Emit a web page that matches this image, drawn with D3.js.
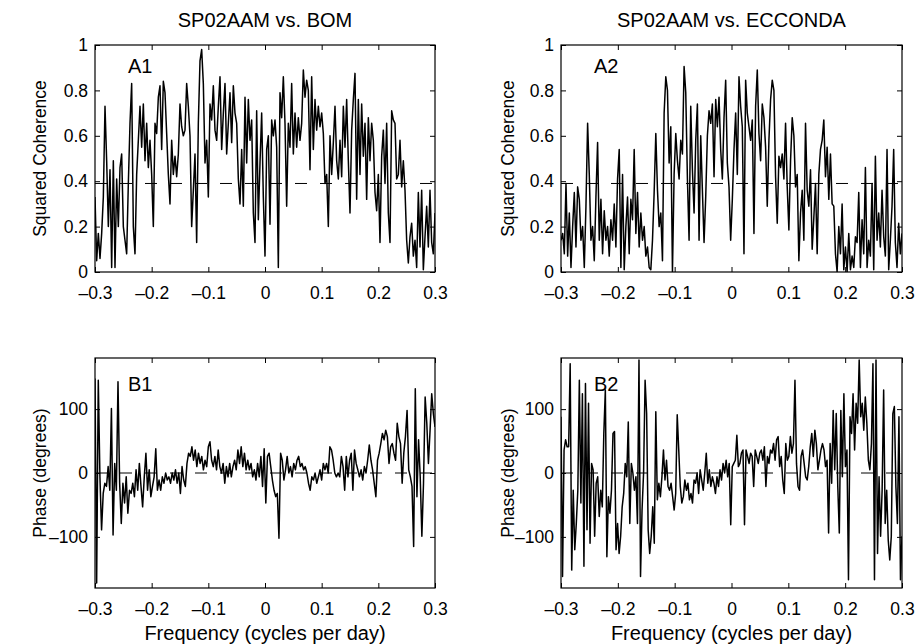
<!DOCTYPE html>
<html><head><meta charset="utf-8">
<script src="https://cdn.jsdelivr.net/npm/d3@7"></script>
<style>
body{margin:0;background:#fff}
svg text{font-family:"Liberation Sans",Arial,Helvetica,sans-serif;fill:#000}
</style>
</head><body>
<svg id="chart" width="917" height="644"></svg>
<script>
// ---------- data ----------
const freqRange = [-0.3, 0.3];
const freqTicks = [-0.3, -0.2, -0.1, 0, 0.1, 0.2, 0.3];
const freqTickLabels = ["\u20130.3", "\u20130.2", "\u20130.1", "0", "0.1", "0.2", "0.3"];
const cohTicks = [0, 0.2, 0.4, 0.6, 0.8, 1];
const cohTickLabels = ["0", "0.2", "0.4", "0.6", "0.8", "1"];
const phaseTicks = [-100, 0, 100];
const phaseTickLabels = ["\u2013100", "0", "100"];
const cohThreshold = 0.39;
const titles = ["SP02AAM vs. BOM", "SP02AAM vs. ECCONDA"];
const panelLabels = ["A1", "A2", "B1", "B2"];
const yTitles = ["Squared Coherence", "Phase (degrees)"];
const xTitle = "Frequency (cycles per day)";

const a1Coh = [0.33,0.05,0.17,0.06,0.17,0.33,0.73,0.49,0.20,0.45,0.02,0.49,0.02,0.41,0.20,0.46,0.52,0.20,0.14,0.08,
0.39,0.655,0.83,0.20,0.08,0.43,0.58,0.73,0.55,0.74,0.49,0.655,0.46,0.58,0.43,0.20,0.655,0.61,0.77,0.82,
0.54,0.84,0.79,0.61,0.43,0.30,0.58,0.43,0.51,0.42,0.52,0.74,0.64,0.60,0.625,0.83,0.73,0.60,0.20,0.36,
0.52,0.13,0.655,0.93,0.98,0.83,0.48,0.58,0.33,0.74,0.67,0.82,0.625,0.58,0.73,0.86,0.54,0.70,0.83,0.52,
0.655,0.79,0.57,0.82,0.70,0.655,0.41,0.30,0.54,0.29,0.77,0.48,0.76,0.58,0.67,0.26,0.13,0.71,0.23,0.48,
0.70,0.33,0.07,0.54,0.60,
0.21,0.67,0.60,0.67,0.55,0.02,0.79,0.68,0.86,0.655,0.29,0.655,0.55,0.83,0.52,0.70,0.55,0.68,0.58,0.655,
0.89,0.77,0.845,0.80,0.45,0.86,0.54,0.76,0.625,0.73,0.64,0.70,0.61,0.39,0.43,0.20,0.60,0.43,0.57,0.73,
0.49,0.41,0.58,0.42,0.73,0.55,0.76,0.49,0.26,0.625,0.76,0.875,0.32,0.76,0.43,0.74,0.51,0.655,0.32,0.68,
0.49,0.655,0.58,0.35,0.27,0.43,0.13,0.51,0.625,0.39,0.655,0.26,0.13,0.71,0.67,0.655,0.41,0.43,0.58,0.375,
0.49,0.36,0.14,0.04,0.155,0.215,0.07,0.14,0.02,0.35,0.11,0.36,0.01,0.155,0.29,0.11,0.36,0.13,0.08,0.26];

const a2Coh = [0.14,0.17,0.08,0.39,0.07,0.26,0.02,0.20,0.35,0.11,0.375,0.32,0.14,0.20,0.02,0.29,0.655,0.43,
0.14,0.20,0.05,0.33,0.57,0.14,0.32,0.08,0.27,0.14,0.20,0.07,0.23,0.14,0.30,0.11,0.41,
0.54,0.02,0.43,0.01,0.20,0.33,0.08,0.32,0.23,0.54,0.17,0.35,0.11,0.26,0.14,0.20,0.07,0.11,0.02,0.01,
0.14,0.35,0.61,0.36,0.20,0.26,0.05,0.70,0.86,0.80,0.48,0.64,0.0,0.43,0.61,0.49,0.41,0.58,0.52,0.905,
0.79,0.41,0.14,0.73,0.45,0.26,0.58,0.74,0.14,0.60,0.36,0.13,0.33,0.60,0.71,0.655,0.74,0.42,0.76,0.64,
0.77,0.54,0.41,0.68,0.845,0.48,0.375,0.14,0.32,0.54,0.70,0.43,0.86,0.73,0.64,0.08,0.845,0.70,0.64,
0.58,0.67,0.17,0.73,0.89,0.61,0.49,0.74,0.68,0.55,0.29,0.58,0.76,0.845,0.80,0.42,0.215,0.51,0.46,0.52,
0.41,0.655,0.375,0.185,0.49,0.68,0.60,0.375,0.43,0.05,0.26,0.36,0.14,0.655,0.36,0.29,0.45,0.10,0.24,0.39,
0.08,0.43,0.54,0.58,0.67,0.42,0.55,0.32,0.52,0.30,0.29,0.08,0.0,0.20,0.08,0.30,0.01,0.11,0.0,0.17,
0.01,0.07,0.02,0.155,0.13,0.35,0.02,0.23,0.08,0.46,0.02,0.14,0.07,0.39,0.01,0.51,0.14,0.26,0.11,0.36,
0.155,0.07,0.54,0.01,0.14,0.29,0.54,0.13,0.02,0.215,0.08,0.17];

const b1Phase = [148,-172,145,-6,-89,-32,-16,-21,10,-27,101,-97,15,-27,143,-16,-79,-16,-47,-6,
-63,-27,-32,-16,-37,5,-27,15,-21,-53,-6,31,-27,5,-37,-21,-6,38,-27,-11,
-27,-6,-16,0,-11,-6,-16,0,-11,5,-16,0,-32,10,-11,-21,15,31,26,41,
20,36,10,31,15,26,5,20,10,41,49,20,10,26,5,36,10,0,15,-16,
10,-6,15,-6,10,20,5,36,15,41,10,31,5,20,5,15,-6,5,-11,15,
-6,26,-21,38,-47,26,31,
10,-11,-27,-37,-32,-102,31,20,-11,5,26,0,10,-6,15,5,20,26,10,15,
5,10,0,-16,-27,-6,-11,0,-16,-6,5,-11,15,5,15,0,41,36,20,0,
-6,0,-6,26,10,-27,26,-6,20,31,-27,36,15,5,-6,5,-11,10,0,20,
44,20,5,-16,-37,20,31,46,62,52,67,57,15,41,46,31,20,78,57,46,
-16,31,57,98,5,-6,-21,-115,132,-37,52,-6,-99,-16,119,78,15,67,124,93,72];

const b2Phase = [88,-162,36,52,41,41,171,-152,-27,-120,-79,-27,145,-47,124,-146,140,-89,109,-110,15,5,
-99,-16,-6,-68,-27,-53,62,130,-131,-37,-63,-27,62,65,-120,-79,-126,-99,-53,-32,15,-6,80,-79,
15,0,-27,-6,-79,177,-162,-58,0,145,93,-89,-126,-99,-53,-110,96,-42,-16,-37,-6,36,-11,20,
-21,-27,-16,-37,-58,-32,91,36,-21,-47,-37,-11,-27,-16,-42,-32,-47,-11,-16,0,-32,5,-11,-27,
0,31,-16,5,-21,-6,-16,-32,-6,-21,5,-11,15,0,20,-6,15,-81,10,15,20,59,10,
15,31,36,-81,36,26,15,31,26,-21,36,26,15,31,36,20,41,-21,26,15,36,31,46,20,52,57,10,26,
-11,-32,46,20,26,57,31,46,145,15,-21,-27,26,36,15,-6,-11,10,41,62,26,67,46,5,20,36,46,36,
10,20,-94,46,-16,98,5,93,-21,-94,98,-6,124,10,36,-167,88,62,124,36,109,78,177,88,109,67,
119,78,20,5,46,171,-167,177,-126,-6,-99,-27,130,-79,-27,-105,-136,-99,93,104,-21,-79,88,-167,-99];

// ---------- layout ----------
const cols = [{x0: 95, x1: 435, yTitleX: 40}, {x0: 561, x1: 902, yTitleX: 508}];
const rows = [
  {y0: 45, y1: 272, domain: [0, 1], ticks: cohTicks, labels: cohTickLabels, ref: cohThreshold, title: yTitles[0]},
  {y0: 358, y1: 588, domain: [-180, 180], ticks: phaseTicks, labels: phaseTickLabels, ref: 0, title: yTitles[1]}
];
const panels = [
  {row: 0, col: 0, data: a1Coh, label: panelLabels[0]},
  {row: 0, col: 1, data: a2Coh, label: panelLabels[1]},
  {row: 1, col: 0, data: b1Phase, label: panelLabels[2]},
  {row: 1, col: 1, data: b2Phase, label: panelLabels[3]}
];

const svg = d3.select("#chart");
const tickFont = 17.5, yTitleFont = 17.5, titleFont = 20, xTitleFont = 20, panelFont = 20;

panels.forEach((p, idx) => {
  const c = cols[p.col], r = rows[p.row];
  const x = d3.scaleLinear().domain(freqRange).range([c.x0, c.x1]);
  const y = d3.scaleLinear().domain(r.domain).range([r.y1, r.y0]);
  const g = svg.append("g");
  const clipId = "clip" + idx;
  svg.append("clipPath").attr("id", clipId).append("rect")
    .attr("x", c.x0).attr("y", r.y0).attr("width", c.x1 - c.x0).attr("height", r.y1 - r.y0);

  // reference dashed line
  g.append("line")
    .attr("x1", c.x0).attr("x2", c.x1).attr("y1", y(r.ref)).attr("y2", y(r.ref))
    .attr("stroke", "#000").attr("stroke-width", 1).attr("stroke-dasharray", "12,13");

  // data line
  const n = p.data.length;
  const fx = i => freqRange[0] + i * (freqRange[1] - freqRange[0]) / (n - 1);
  const line = d3.line().x((d, i) => x(fx(i))).y(d => y(d));
  g.append("path").datum(p.data)
    .attr("clip-path", `url(#${clipId})`)
    .attr("fill", "none").attr("stroke", "#000").attr("stroke-width", 1.5)
    .attr("stroke-linejoin", "round")
    .attr("d", line);

  // axes (inward ticks, MATLAB style)
  const fmtX = (d, i) => freqTickLabels[i];
  const fmtY = (d, i) => r.labels[i];
  const axB = g.append("g").attr("transform", `translate(0,${r.y1})`)
    .call(d3.axisBottom(x).tickValues(freqTicks).tickFormat(fmtX).tickSize(-5).tickPadding(15));
  const axT = g.append("g").attr("transform", `translate(0,${r.y0})`)
    .call(d3.axisTop(x).tickValues(freqTicks).tickFormat("").tickSize(-5));
  const axL = g.append("g").attr("transform", `translate(${c.x0},0)`)
    .call(d3.axisLeft(y).tickValues(r.ticks).tickFormat(fmtY).tickSize(-5).tickPadding(7));
  const axR = g.append("g").attr("transform", `translate(${c.x1},0)`)
    .call(d3.axisRight(y).tickValues(r.ticks).tickFormat("").tickSize(-5));
  [axB, axT, axL, axR].forEach(a => {
    a.select(".domain").remove();
    a.selectAll("line").attr("stroke", "#000");
    a.selectAll("text").attr("font-size", tickFont).attr("font-family", null);
  });

  // frame
  g.append("rect").attr("x", c.x0).attr("y", r.y0)
    .attr("width", c.x1 - c.x0).attr("height", r.y1 - r.y0)
    .attr("fill", "none").attr("stroke", "#000").attr("stroke-width", 1.2);

  // panel label
  g.append("text").attr("x", c.x0 + 33).attr("y", r.y0 + (p.row === 0 ? 28 : 33))
    .attr("font-size", panelFont).text(p.label);

  // y title
  g.append("text")
    .attr("transform", `translate(${c.yTitleX},${(r.y0 + r.y1) / 2}) rotate(-90)`)
    .attr("text-anchor", "middle").attr("dy", "0.35em")
    .attr("font-size", yTitleFont).text(r.title);

  // titles / x title
  if (p.row === 0) {
    g.append("text").attr("x", (c.x0 + c.x1) / 2).attr("y", 27)
      .attr("text-anchor", "middle").attr("font-size", titleFont).text(titles[p.col]);
  } else {
    g.append("text").attr("x", (c.x0 + c.x1) / 2).attr("y", 640)
      .attr("text-anchor", "middle").attr("font-size", xTitleFont).text(xTitle);
  }
});
</script>
</body></html>
